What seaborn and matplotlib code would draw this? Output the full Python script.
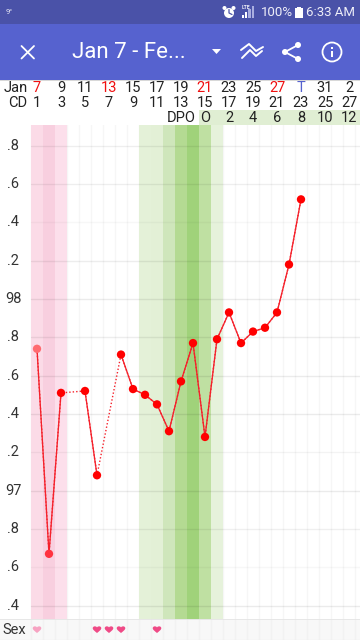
import matplotlib
matplotlib.use('Agg')
import matplotlib.pyplot as plt
from matplotlib.patches import Rectangle, Circle, Polygon
from matplotlib.path import Path
from matplotlib.transforms import blended_transform_factory
import pandas as pd
import seaborn as sns

# chart values
days = [1, 2, 3, 5, 6, 8, 9, 10, 11, 12, 13, 14, 15, 16, 17, 18, 19, 20, 21, 22, 23]
temps = [97.74, 96.67, 97.51, 97.52, 97.08, 97.71, 97.53, 97.50, 97.45, 97.31, 97.57, 97.77,
         97.28, 97.79, 97.93, 97.77, 97.83, 97.85, 97.93, 98.18, 98.52]
solid_runs = [(1, 3), (5, 6), (8, 23)]
sex_days = [1, 6, 7, 8, 11]

header_days = [1, 3, 5, 7, 9, 11, 13, 15, 17, 19, 21, 23, 25, 27]
date_labels = ['7', '9', '11', '13', '15', '17', '19', '21', '23', '25', '27', 'T', '31', '2']
date_colors = ['#f01010', '#222222', '#222222', '#f01010', '#222222', '#222222', '#222222',
               '#f01010', '#222222', '#222222', '#f01010', '#5662cf', '#222222', '#222222']
cd_labels = ['1', '3', '5', '7', '9', '11', '13', '15', '17', '19', '21', '23', '25', '27']
dpo_days = [15, 17, 19, 21, 23, 25, 27]
dpo_labels = ['O', '2', '4', '6', '8', '10', '12']

y_ticks = [98.8, 98.6, 98.4, 98.2, 98.0, 97.8, 97.6, 97.4, 97.2, 97.0, 96.8, 96.6, 96.4]
y_labels = ['.8', '.6', '.4', '.2', '98', '.8', '.6', '.4', '.2', '97', '.8', '.6', '.4']
grid_cols = ['#eeeeee', '#eeeeee', '#f7f7f7', '#ededed', '#ebebeb', '#ededed', '#ebebeb',
             '#ebebeb', '#f3f3f3', '#ebebeb', '#efefef', '#f7f7f7', '#ebebeb']

pink_days = [1, 2, 3]
pink_cols = ['#fbdbe7', '#f8cfdf', '#fcdfeb']
green_days = [10, 11, 12, 13, 14, 15, 16]
green_cols = ['#e4f1d8', '#e3f0d6', '#cfe6bb', '#b4da92', '#a0d27a', '#bfe0a2', '#e6f2db']

HEART = Path([(0, -0.9), (-0.6, -0.4), (-1.1, -0.1), (-1.1, 0.35),
              (-1.1, 0.8), (-0.4, 1.05), (0, 0.55),
              (0.4, 1.05), (1.1, 0.8), (1.1, 0.35),
              (1.1, -0.1), (0.6, -0.4), (0, -0.9), (0, -0.9)],
             [Path.MOVETO] + [Path.CURVE4] * 12 + [Path.CLOSEPOLY])

sns.set_theme(style='white')
plt.rcParams['font.family'] = ['Roboto', 'DejaVu Sans']

W, H = 360, 640
fig = plt.figure(figsize=(W / 100, H / 100), dpi=100)


def px_axes(x0, y0, x1, y1):
    # axes placed by screen pixels, y measured from top
    return fig.add_axes([x0 / W, 1 - y1 / H, (x1 - x0) / W, (y1 - y0) / H])


# chart area
ax = px_axes(0, 125, 360, 619)
xlim = ((0 - 25) / 12, (360 - 25) / 12)
ax.set_xlim(xlim)
ax.set_ylim(98 - (619 - 299) / 191.6, 98 - (125 - 299) / 191.6)
for s in ax.spines.values():
    s.set_visible(False)

for d, c in zip(pink_days + green_days, pink_cols + green_cols):
    ax.axvspan(d - 0.5, d + 0.5, color=c, lw=0, zorder=1)

for k in range(0, 28):
    ax.axvline(k + 0.5, color='#f6f6f6', lw=1, zorder=0.5)
for t, c in zip(y_ticks, grid_cols):
    ax.axhline(t, xmin=31 / 360, color='black', alpha=(255 - int(c[1:3], 16)) / 255, lw=1, zorder=1.5)

df = pd.DataFrame({'day': days, 'temp': temps})
sns.lineplot(data=df, x='day', y='temp', color='#f5212b', lw=1.0, linestyle=(0, (1, 1.5)),
             ax=ax, zorder=3)
for a, b in solid_runs:
    run = df[(df['day'] >= a) & (df['day'] <= b)]
    sns.lineplot(data=run, x='day', y='temp', color='#f5212b', lw=0.95, ax=ax, zorder=4)
point_cols = ['#ff6b70', '#ff3340'] + ['#ff0000'] * (len(days) - 2)
sns.scatterplot(data=df, x='day', y='temp', c=point_cols, s=36, linewidth=0, ax=ax, zorder=5)

ax.set_xlabel('')
ax.set_ylabel('')
ax.set_xticks([])
ax.set_yticks([])
ax.set_xlim(xlim)
tr = blended_transform_factory(fig.transFigure, ax.transData)
for t, lab in zip(y_ticks, y_labels):
    ax.text(13 / W, t, lab, transform=tr, ha='center', va='center', fontsize=10.5, color='#333333')

# sex row
sx = px_axes(0, 619, 360, 640)
sx.set_xlim(xlim)
sx.set_ylim(0, 1)
sx.set_facecolor('#f8f8f8')
sx.set_xticks([])
sx.set_yticks([])
for s in sx.spines.values():
    s.set_visible(False)
for k in range(0, 28):
    sx.axvline(k + 0.5, color='#f2f2f2', lw=1, zorder=0.5)
sx.axhline(0.98, color='#e4e4e4', lw=1.2)
sx.axhline(0.02, color='#eeeeee', lw=1)
sx.text(14 / W, 0.47, 'Sex', transform=blended_transform_factory(fig.transFigure, sx.transAxes),
        ha='center', va='center', fontsize=10.5, color='#333333')
sex_df = pd.DataFrame({'day': sex_days, 'row': [0.5] * len(sex_days)})
sns.scatterplot(data=sex_df, x='day', y='row', c=['#f7a3c2' if d == 1 else '#ef4a86' for d in sex_days],
                marker=HEART, s=38, linewidth=0, ax=sx, zorder=3)
sx.set_xlabel('')
sx.set_ylabel('')
sx.set_xticks([])
sx.set_yticks([])
sx.set_xlim(xlim)
sx.set_ylim(0, 1)

# header rows with cycle labels
hd = px_axes(0, 81, 360, 125)
hd.set_xlim(xlim)
hd.set_ylim(125, 81)
hd.axis('off')
hd.add_patch(Rectangle((14.5, 110), 20, 15, color='#e0eed3', lw=0))
rows = {'date': 88, 'cd': 103, 'dpo': 118}
for d, lab, c in zip(header_days, date_labels, date_colors):
    hd.text(d, rows['date'], lab, ha='center', va='center', fontsize=10.5, color=c)
for d, lab in zip(header_days, cd_labels):
    hd.text(d, rows['cd'], lab, ha='center', va='center', fontsize=10.5, color='#222222')
for d, lab in zip(dpo_days, dpo_labels):
    hd.text(d, rows['dpo'], lab, ha='center', va='center', fontsize=10.5, color='#222222')
hd_tr = blended_transform_factory(fig.transFigure, hd.transData)
hd.text(16 / W, rows['date'], 'Jan', transform=hd_tr, ha='center', va='center', fontsize=10.5, color='#222222')
hd.text(18 / W, rows['cd'], 'CD', transform=hd_tr, ha='center', va='center', fontsize=10.5, color='#222222')
hd.text(13, rows['dpo'], 'DPO', ha='center', va='center', fontsize=10.5, color='#222222')

# status bar and toolbar
top = px_axes(0, 0, 360, 81)
top.set_xlim(0, 360)
top.set_ylim(81, 0)
top.axis('off')
top.add_patch(Rectangle((0, 0), 360, 24, color='#4a52a8', lw=0))
top.add_patch(Rectangle((0, 24), 360, 56, color='#5662cf', lw=0))
top.add_patch(Rectangle((0, 80), 360, 1, color='#d8d8d8', lw=0))
top.text(6, 12.5, '9°', fontsize=5.5, color='#e8e8f5', va='center')
top.add_patch(Circle((229, 13), 5, color='white', lw=0))
top.plot([229, 229, 232], [9.5, 13, 14.5], color='#4a52a8', lw=0.9)
top.add_patch(Circle((224.5, 8), 2, color='white', lw=0))
top.add_patch(Circle((233.5, 8), 2, color='white', lw=0))
top.text(246, 7.5, 'LTE', fontsize=3.6, color='#f0f0f8', ha='center', va='center', weight='bold')
for i, h in enumerate([3, 6, 9, 12]):
    top.add_patch(Rectangle((242 + i * 3.2, 18 - h), 2.2, h, color='white' if i < 2 else '#a9aee0', lw=0))
top.text(260.5, 12.5, '100%', fontsize=9.5, color='#eeeef8', va='center')
top.add_patch(Rectangle((295, 8), 7.5, 10, color='white', lw=0))
top.add_patch(Rectangle((297, 6.5), 3.5, 2, color='white', lw=0))
top.text(306.5, 12.5, '6:33 AM', fontsize=9.5, color='#eeeef8', va='center')

top.plot([21.5, 34], [46, 58.5], color='white', lw=1.3)
top.plot([21.5, 34], [58.5, 46], color='white', lw=1.3)
top.text(72, 52, 'Jan 7 - Fe...', fontsize=16, color='white', va='center')
top.add_patch(Polygon([[212, 49], [221, 49], [216.5, 54]], color='white', lw=0))
top.plot([241, 249, 256, 263], [50, 44, 51, 47], color='white', lw=1.4)
top.plot([242, 250, 256, 262], [58, 50, 56, 51], color='white', lw=1.4)
top.plot([298, 285, 298], [45, 52, 59], color='white', lw=1.3)
for cx, cy, r in [(298, 45, 3), (285, 52, 3), (298, 59, 3)]:
    top.add_patch(Circle((cx, cy), r, color='white', lw=0))
top.add_patch(Circle((332, 52), 9.5, fill=False, ec='white', lw=1.3))
top.add_patch(Rectangle((331.2, 51), 1.7, 6, color='white', lw=0))
top.add_patch(Rectangle((331.2, 47), 1.7, 2, color='white', lw=0))

fig.savefig('out.png', dpi=100)
